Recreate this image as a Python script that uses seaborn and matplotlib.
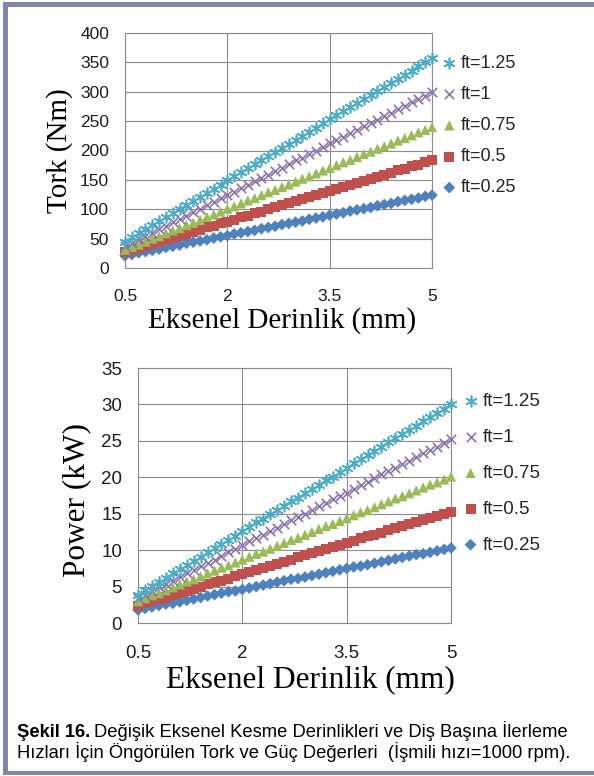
import matplotlib
matplotlib.use("Agg")
import pandas as pd
import matplotlib.pyplot as plt
import seaborn as sns
from matplotlib.patches import Rectangle

# eksenel derinlik (mm), 0.1 mm adim
depth = [0.5, 0.6, 0.7, 0.8, 0.9, 1.0, 1.1, 1.2, 1.3, 1.4, 1.5, 1.6, 1.7, 1.8, 1.9,
         2.0, 2.1, 2.2, 2.3, 2.4, 2.5, 2.6, 2.7, 2.8, 2.9, 3.0, 3.1, 3.2, 3.3, 3.4,
         3.5, 3.6, 3.7, 3.8, 3.9, 4.0, 4.1, 4.2, 4.3, 4.4, 4.5, 4.6, 4.7, 4.8, 4.9, 5.0]

ft_labels = ['ft=0.25', 'ft=0.5', 'ft=0.75', 'ft=1', 'ft=1.25']

# tork (Nm)
torque_025 = [21, 23, 26, 28, 30, 32, 35, 37, 39, 42, 44, 46, 48, 51, 53, 55, 58, 60, 62, 64,
              67, 69, 71, 74, 76, 78, 80, 83, 85, 87, 90, 92, 94, 97, 99, 101, 103, 106, 108, 110,
              113, 115, 117, 119, 122, 124]
torque_05 = [27, 30, 34, 37, 41, 44, 48, 51, 55, 58, 62, 65, 69, 72, 76, 79, 82, 86, 89, 93,
             96, 100, 103, 107, 110, 114, 117, 121, 124, 128, 131, 134, 138, 141, 145, 148, 152, 155, 159, 162,
             166, 169, 173, 176, 180, 183]
torque_075 = [31, 36, 40, 45, 50, 54, 59, 64, 68, 73, 77, 82, 87, 91, 96, 101, 105, 110, 115, 119,
              124, 129, 133, 138, 142, 147, 152, 156, 161, 166, 170, 175, 180, 184, 189, 194, 198, 203, 207, 212,
              217, 221, 226, 231, 235, 240]
torque_1 = [37, 43, 49, 54, 60, 66, 72, 78, 84, 89, 95, 101, 107, 113, 119, 124, 130, 136, 142, 148,
            153, 159, 165, 171, 177, 183, 188, 194, 200, 206, 212, 218, 223, 229, 235, 241, 247, 252, 258, 264,
            270, 276, 282, 287, 293, 299]
torque_125 = [45, 52, 59, 66, 73, 80, 87, 94, 100, 107, 114, 121, 128, 135, 142, 149, 156, 163, 170, 177,
              184, 191, 198, 204, 211, 218, 225, 232, 239, 246, 253, 260, 267, 274, 281, 288, 295, 302, 308, 315,
              322, 329, 336, 343, 350, 357]

# guc (kW)
power_025 = [1.8, 2.0, 2.2, 2.4, 2.6, 2.7, 2.9, 3.1, 3.3, 3.5, 3.7, 3.9, 4.1, 4.3, 4.4, 4.6, 4.8, 5.0, 5.2, 5.4,
             5.6, 5.8, 6.0, 6.1, 6.3, 6.5, 6.7, 6.9, 7.1, 7.3, 7.5, 7.7, 7.8, 8.0, 8.2, 8.4, 8.6, 8.8, 9.0, 9.2,
             9.4, 9.5, 9.7, 9.9, 10.1, 10.3]
power_05 = [2.4, 2.7, 3.0, 3.3, 3.5, 3.8, 4.1, 4.4, 4.7, 5.0, 5.3, 5.6, 5.8, 6.1, 6.4, 6.7, 7.0, 7.3, 7.6, 7.8,
            8.1, 8.4, 8.7, 9.0, 9.3, 9.6, 9.9, 10.1, 10.4, 10.7, 11.0, 11.3, 11.6, 11.9, 12.1, 12.4, 12.7, 13.0, 13.3, 13.6,
            13.9, 14.2, 14.4, 14.7, 15.0, 15.3]
power_075 = [3.0, 3.4, 3.8, 4.1, 4.5, 4.9, 5.3, 5.7, 6.0, 6.4, 6.8, 7.2, 7.6, 7.9, 8.3, 8.7, 9.1, 9.5, 9.8, 10.2,
             10.6, 11.0, 11.4, 11.7, 12.1, 12.5, 12.9, 13.3, 13.6, 14.0, 14.4, 14.8, 15.2, 15.5, 15.9, 16.3, 16.7, 17.1, 17.4, 17.8,
             18.2, 18.6, 19.0, 19.3, 19.7, 20.1]
power_1 = [3.4, 3.9, 4.4, 4.9, 5.3, 5.8, 6.3, 6.8, 7.3, 7.8, 8.2, 8.7, 9.2, 9.7, 10.2, 10.7, 11.2, 11.6, 12.1, 12.6,
           13.1, 13.6, 14.1, 14.5, 15.0, 15.5, 16.0, 16.5, 17.0, 17.4, 17.9, 18.4, 18.9, 19.4, 19.9, 20.4, 20.8, 21.3, 21.8, 22.3,
           22.8, 23.3, 23.7, 24.2, 24.7, 25.2]
power_125 = [3.9, 4.5, 5.1, 5.6, 6.2, 6.8, 7.4, 8.0, 8.5, 9.1, 9.7, 10.3, 10.9, 11.4, 12.0, 12.6, 13.2, 13.8, 14.3, 14.9,
             15.5, 16.1, 16.7, 17.2, 17.8, 18.4, 19.0, 19.6, 20.1, 20.7, 21.3, 21.9, 22.5, 23.0, 23.6, 24.2, 24.8, 25.4, 25.9, 26.5,
             27.1, 27.7, 28.3, 28.8, 29.4, 30.0]

torque_series = [torque_025, torque_05, torque_075, torque_1, torque_125]
power_series = [power_025, power_05, power_075, power_1, power_125]

colors = ['#4F81BD', '#C0504D', '#9BBB59', '#8C74B0', '#4BACC6']
markers = ['D', 's', '^', 'x', (6, 2, 0)]
sizes = [36, 52, 54, 46, 56]

sns.set_theme(style="whitegrid")
plt.rcParams['font.family'] = ['Liberation Sans', 'DejaVu Sans']

W, H = 594, 776
fig = plt.figure(figsize=(W / 100, H / 100), dpi=100)


def px_axes(left, top, right, bottom):
    return fig.add_axes([left / W, 1 - bottom / H, (right - left) / W, (bottom - top) / H])


def draw_panel(ax, series, ymax, ystep, ylabel, tick_fs, lab_fs, leg_anchor, leg_fs, leg_space,
               xtick_pad, ytick_pad, ylab_xy, xlab_xy):
    df = pd.DataFrame({lab: vals for lab, vals in zip(ft_labels, series)})
    df['depth'] = depth
    for lab, c, m, s in zip(ft_labels, colors, markers, sizes):
        filled = m != 'x' and not isinstance(m, tuple)
        kw = dict(edgecolor='none') if filled else dict(linewidths=1.2)
        sns.scatterplot(data=df, x='depth', y=lab, ax=ax, marker=m, color=c, s=s,
                        label=lab, clip_on=False, zorder=3, **kw)
    ax.set_xlim(0.5, 5)
    ax.set_xticks([0.5, 2, 3.5, 5])
    ax.set_xticklabels(['0.5', '2', '3.5', '5'])
    ax.set_ylim(0, ymax)
    ax.set_yticks(range(0, ymax + 1, ystep))
    ax.set_facecolor('white')
    ax.set_axisbelow(True)
    ax.grid(True, color='#8C8C8C', linewidth=0.8)
    for sp in ax.spines.values():
        sp.set_color('#8C8C8C')
        sp.set_linewidth(0.8)
    ax.tick_params(axis='both', direction='out', length=3, width=0.8, color='#8C8C8C',
                   labelsize=tick_fs, labelcolor='#1E1E1E')
    ax.tick_params(axis='x', pad=xtick_pad)
    ax.tick_params(axis='y', pad=ytick_pad)
    ax.set_ylabel(ylabel, fontsize=lab_fs, family='Liberation Serif', color='black', va='center')
    ax.yaxis.set_label_coords(*ylab_xy)
    ax.set_xlabel('Eksenel Derinlik (mm)', fontsize=lab_fs, family='Liberation Serif',
                  color='black', va='baseline')
    ax.xaxis.set_label_coords(*xlab_xy)
    handles, labels = ax.get_legend_handles_labels()
    ax.legend(handles[::-1], labels[::-1], loc='upper left',
              bbox_to_anchor=(leg_anchor[0] / W, 1 - leg_anchor[1] / H),
              bbox_transform=fig.transFigure, frameon=False, fontsize=leg_fs,
              handlelength=0.7, handletextpad=0.3, labelspacing=leg_space,
              borderpad=0, borderaxespad=0, scatterpoints=1)


ax1 = px_axes(125, 33, 432, 268)
draw_panel(ax1, torque_series, 400, 50, 'Tork (Nm)', 12.5, 21, (443, 55), 13, 0.78,
           12, 8.5, ((60 - 125) / 307, 0.5), ((282.5 - 125) / 307, (268 - 328) / 235))

ax2 = px_axes(138, 368, 451, 623)
draw_panel(ax2, power_series, 35, 5, 'Power (kW)', 13.5, 22.5, (464, 393), 13.5, 1.0,
           12.5, 8.5, ((77 - 138) / 313, (623 - 500) / 255), ((310.5 - 138) / 313, (623 - 687) / 255))

# alt yazi
cap_fs = 13.2
renderer = fig.canvas.get_renderer()
t1 = fig.text(17 / W, 1 - 737 / H, 'Şekil 16.', fontsize=cap_fs, fontweight='bold',
              va='baseline', ha='left', color='black')
bb = t1.get_window_extent(renderer=renderer)
fig.text((bb.x1 + 4) / W, 1 - 737 / H,
         'Değişik Eksenel Kesme Derinlikleri ve Diş Başına İlerleme',
         fontsize=cap_fs, va='baseline', ha='left', color='black')
fig.text(17 / W, 1 - 758 / H,
         'Hızları İçin Öngörülen Tork ve Güç Değerleri  (İşmili hızı=1000 rpm).',
         fontsize=cap_fs, va='baseline', ha='left', color='black')

# cerceve
frame_col = '#7F88A8'
for x0, y0, x1, y1 in [(3, 2, 8, 775), (3, 2, W, 7), (3, 771, W, 775)]:
    fig.add_artist(Rectangle((x0 / W, 1 - y1 / H), (x1 - x0) / W, (y1 - y0) / H,
                             transform=fig.transFigure, color=frame_col, lw=0))

fig.savefig('out.png', dpi=100)
